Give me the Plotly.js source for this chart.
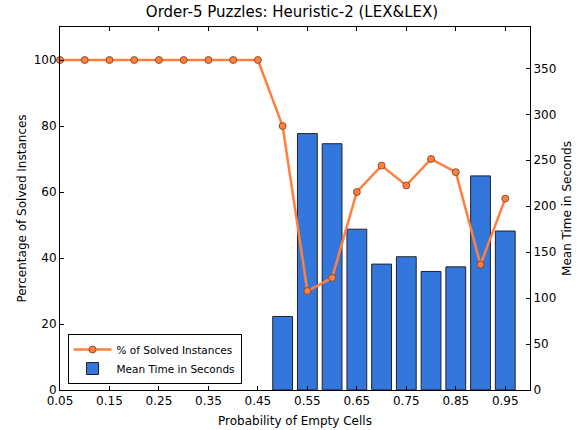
<!DOCTYPE html>
<html>
<head>
<meta charset="utf-8">
<script src="https://cdn.plot.ly/plotly-3.0.1.min.js"></script>
<style>html,body{margin:0;padding:0;background:#fff}#chart{width:584px;height:430px}</style>
</head>
<body>
<div id="chart"></div>
<script>
var probs = [0.05,0.10,0.15,0.20,0.25,0.30,0.35,0.40,0.45,0.50,0.55,0.60,0.65,0.70,0.75,0.80,0.85,0.90,0.95];
var solvedPct = [100,100,100,100,100,100,100,100,100,80,30,34,60,68,62,70,66,38,58];
var barProbs = [0.50,0.55,0.60,0.65,0.70,0.75,0.80,0.85,0.90,0.95];
var meanTime = [80,279,268,175,137,145,129,134,233,173];
var xTicks = [0.05,0.15,0.25,0.35,0.45,0.55,0.65,0.75,0.85,0.95];
var xTickText = ["0.05","0.15","0.25","0.35","0.45","0.55","0.65","0.75","0.85","0.95"];

var font = "DejaVu Sans, sans-serif";
var traces = [
  {
    type: "bar", x: barProbs, y: meanTime, width: 0.04, yaxis: "y",
    name: "Mean Time in Seconds", legendrank: 2,
    marker: {color: "#3477dc", line: {color: "#222", width: 1}}
  },
  {
    type: "scatter", mode: "lines+markers", x: probs, y: solvedPct, yaxis: "y2",
    name: "% of Solved Instances", legendrank: 1, cliponaxis: false,
    line: {color: "#ff7f3f", width: 2.5},
    marker: {color: "#ff7f3f", size: 7, line: {color: "#7a3a1a", width: 0.8}}
  }
];
var layout = {
  width: 584, height: 430,
  margin: {l: 60, r: 54, t: 27, b: 40},
  paper_bgcolor: "#fff", plot_bgcolor: "#fff",
  font: {family: font, size: 12, color: "#000"},
  title: {text: "Order-5 Puzzles: Heuristic-2 (LEX&LEX)", font: {size: 15}, x: 0.5, xanchor: "center", y: 0.985, yanchor: "top"},
  bargap: 0,
  xaxis: {
    range: [0.05, 1.0], tickvals: xTicks, ticktext: xTickText,
    ticks: "inside", ticklen: 4, tickcolor: "#000", showline: true, linecolor: "#000", linewidth: 1,
    mirror: "ticks", showgrid: false, zeroline: false,
    title: {text: "Probability of Empty Cells", font: {size: 12}, standoff: 9}
  },
  yaxis: {
    side: "right", range: [0, 395], tickvals: [0,50,100,150,200,250,300,350],
    ticks: "inside", ticklen: 4, tickcolor: "#000", showline: true, linecolor: "#000", linewidth: 1,
    showgrid: false, zeroline: false,
    title: {text: "Mean Time in Seconds", font: {size: 12}, standoff: 7}
  },
  yaxis2: {
    overlaying: "y", side: "left", range: [0, 110], tickvals: [0,20,40,60,80,100],
    ticks: "inside", ticklen: 4, tickcolor: "#000", showline: true, linecolor: "#000", linewidth: 1,
    showgrid: false, zeroline: false,
    title: {text: "Percentage of Solved Instances", font: {size: 12}, standoff: 4}
  },
  legend: {
    x: 0.016, y: 0.0165, xanchor: "left", yanchor: "bottom",
    bgcolor: "#fff", bordercolor: "#000", borderwidth: 1,
    font: {size: 10.5}, tracegroupgap: 0, itemwidth: 38
  },
  showlegend: true
};
Plotly.newPlot("chart", traces, layout, {displayModeBar: false, staticPlot: true});
</script>
</body>
</html>
